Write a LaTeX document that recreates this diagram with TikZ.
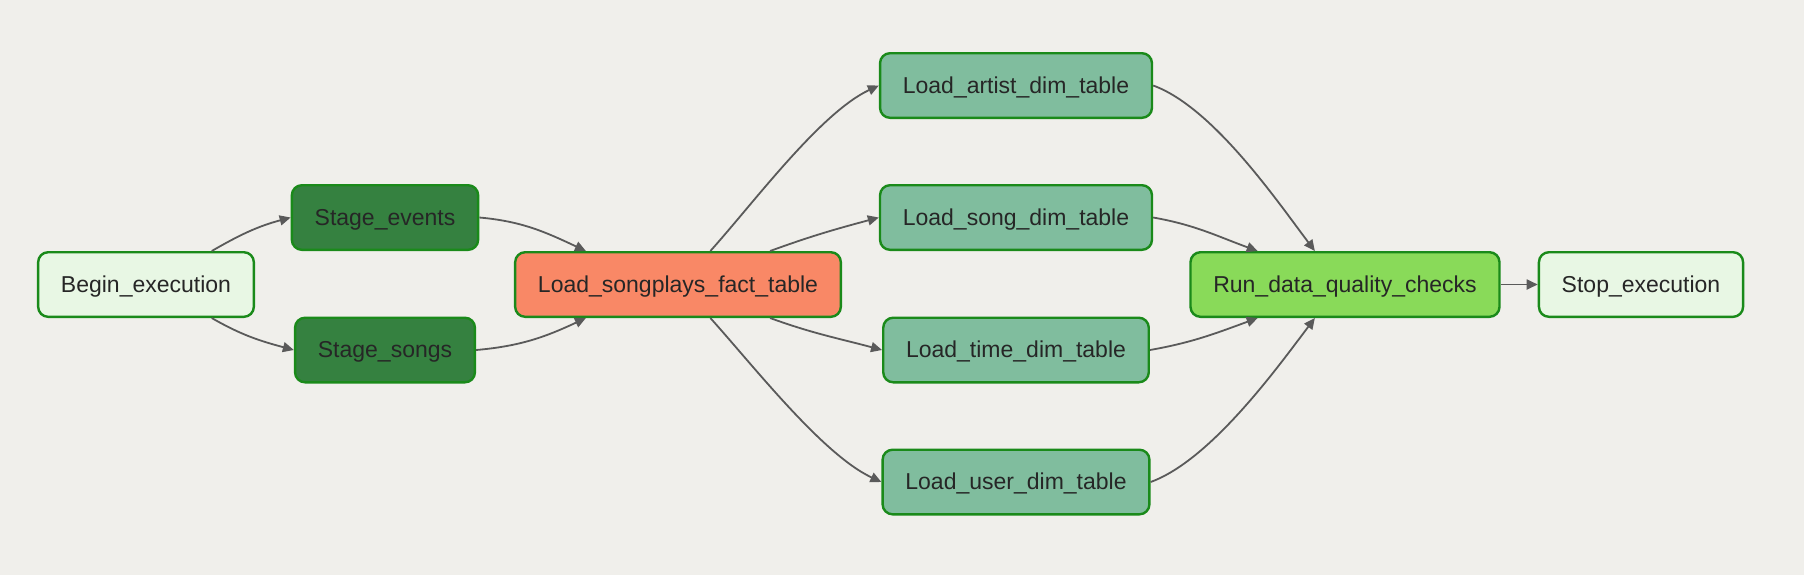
\documentclass[tikz,border=0pt]{standalone}
\usepackage{fontspec}
\setmainfont{Liberation Sans}
\usetikzlibrary{arrows.meta}
\definecolor{bg}{HTML}{F0EFEB}
\definecolor{okline}{HTML}{1A8A1A}
\definecolor{dummyfill}{HTML}{E8F7E4}
\definecolor{stagefill}{HTML}{358140}
\definecolor{factfill}{HTML}{F98866}
\definecolor{dimfill}{HTML}{80BD9E}
\definecolor{checkfill}{HTML}{89DA59}
\definecolor{depline}{HTML}{5A5A5A}
\begin{document}
\begin{tikzpicture}[
  x=0.5pt, y=-0.5pt,
  every node/.style={rectangle, rounded corners=5pt, draw=okline, line width=1.2pt,
    minimum height=32.3pt, inner xsep=11.4pt, text height=8.2pt, text depth=0.5pt,
    text=black!85, font=\fontsize{11.5}{14}\selectfont},
  dummy/.style={fill=dummyfill},
  stage/.style={fill=stagefill},
  fact/.style={fill=factfill},
  dim/.style={fill=dimfill},
  check/.style={fill=checkfill},
  dep/.style={draw=depline, line width=0.9pt, -{Triangle[length=5.5pt,width=5pt]}}
]
\useasboundingbox[fill=bg] (0,0) rectangle (1804,575);

\node[dummy] (begin) at (146,284.5) {Begin\_execution};
\node[stage] (sevents) at (385,217.5) {Stage\_events};
\node[stage] (ssongs) at (385,350) {Stage\_songs};
\node[fact] (songplays) at (678,284.5) {Load\_songplays\_fact\_table};
\node[dim] (artist) at (1016,85.5) {Load\_artist\_dim\_table};
\node[dim] (song) at (1016,217.5) {Load\_song\_dim\_table};
\node[dim] (time) at (1016,350) {Load\_time\_dim\_table};
\node[dim] (user) at (1016,482) {Load\_user\_dim\_table};
\node[check] (quality) at (1345,284.5) {Run\_data\_quality\_checks};
\node[dummy] (stop) at (1641,284.5) {Stop\_execution};

% staging
\draw[dep] (begin.27) to[out=30, in=195] (sevents.west);
\draw[dep] (begin.-27) to[out=-30, in=165] (ssongs.west);
\draw[dep] (sevents.east) to[out=-5, in=155] (songplays.160);
\draw[dep] (ssongs.east) to[out=5, in=205] (songplays.200);

% dimensions
\draw[dep] (songplays.46) to[out=48, in=205, looseness=0.7] (artist.west);
\draw[dep] (songplays.20) to[out=20, in=195] (song.west);
\draw[dep] (songplays.-20) to[out=-20, in=165] (time.west);
\draw[dep] (songplays.-46) to[out=-48, in=155, looseness=0.7] (user.west);

% checks
\draw[dep] (artist.east) to[out=-20, in=127, looseness=0.7] (quality.132);
\draw[dep] (song.east) to[out=-10, in=160] (quality.159);
\draw[dep] (time.east) to[out=10, in=200] (quality.201);
\draw[dep] (user.east) to[out=20, in=233, looseness=0.7] (quality.228);
\draw[dep] (quality) -- (stop);
\end{tikzpicture}
\end{document}
